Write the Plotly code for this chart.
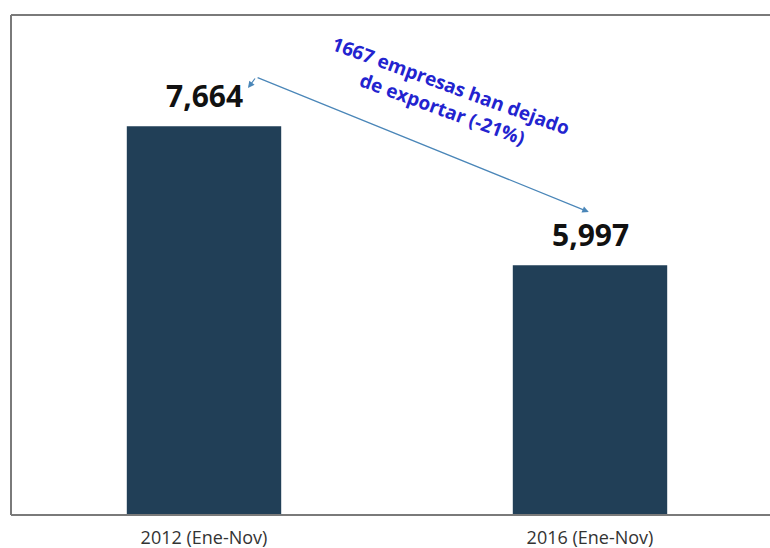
import plotly.graph_objects as go

# Exporting companies, Jan-Nov of each year
categories = ["2012 (Ene-Nov)", "2016 (Ene-Nov)"]
companies = [7664, 5997]
note_lines = ["1667 empresas han dejado", "de exportar (-21%)"]

BAR_COLOR = "#213f57"
ARROW_COLOR = "#4a86b8"
NOTE_COLOR = "#2323cf"
FRAME_COLOR = "#7a7a7a"

fig = go.Figure()
fig.add_trace(go.Bar(
    x=[0, 1],
    y=companies,
    width=0.4,
    marker=dict(color=BAR_COLOR, line=dict(width=0)),
    hoverinfo="skip",
))

# value labels above each bar
for i, v in enumerate(companies):
    fig.add_annotation(
        x=i, y=v, xref="x", yref="y",
        text=f"<b>{v:,}</b>", showarrow=False,
        yanchor="middle", yshift=31,
        font=dict(family="Open Sans", size=30, color="#111111"),
    )

# double-ended arrow linking the two values
x_from, y_from = 0.135, 8256
x_to, y_to = 0.997, 6636
fig.add_annotation(
    x=x_to, y=y_to, ax=x_from, ay=y_from,
    xref="x", yref="y", axref="x", ayref="y",
    text="", showarrow=True, arrowhead=2, arrowsize=1.1,
    arrowwidth=1.2, arrowcolor=ARROW_COLOR,
)
fig.add_annotation(
    x=0.114, y=8124, ax=x_from, ay=y_from,
    xref="x", yref="y", axref="x", ayref="y",
    text="", showarrow=True, arrowhead=2, arrowsize=1.1,
    arrowwidth=1.2, arrowcolor=ARROW_COLOR,
)

# rotated note above the arrow
fig.add_annotation(
    x=0.628, y=8010, xref="x", yref="y",
    text="<b>" + "<br>".join(note_lines) + "</b>",
    showarrow=False, textangle=20, align="center",
    xanchor="center", yanchor="middle",
    font=dict(family="Open Sans", size=19, color=NOTE_COLOR),
)

# open frame: top, left and bottom edges only
for x0, y0, x1, y1 in [(0, 1, 1.1, 1), (0, 0, 0, 1), (0, 0, 1.1, 0)]:
    fig.add_shape(
        type="line", xref="paper", yref="paper",
        x0=x0, y0=y0, x1=x1, y1=y1,
        line=dict(color=FRAME_COLOR, width=2),
    )

fig.update_layout(
    width=770, height=548,
    margin=dict(l=11, r=30, t=15, b=33, autoexpand=False),
    paper_bgcolor="white", plot_bgcolor="white",
    showlegend=False,
    xaxis=dict(
        range=[-0.5, -0.5 + 729 / 386],
        tickmode="array", tickvals=[0, 1], ticktext=categories,
        showgrid=False, zeroline=False, showline=False, automargin=False,
        ticks="", ticklabelstandoff=10,
        tickfont=dict(family="Open Sans", size=18, color="#333333"),
    ),
    yaxis=dict(
        range=[3000, 9000], automargin=False,
        showticklabels=False, showgrid=False, zeroline=False,
        showline=False, ticks="",
    ),
)

fig.write_html("out.html")
